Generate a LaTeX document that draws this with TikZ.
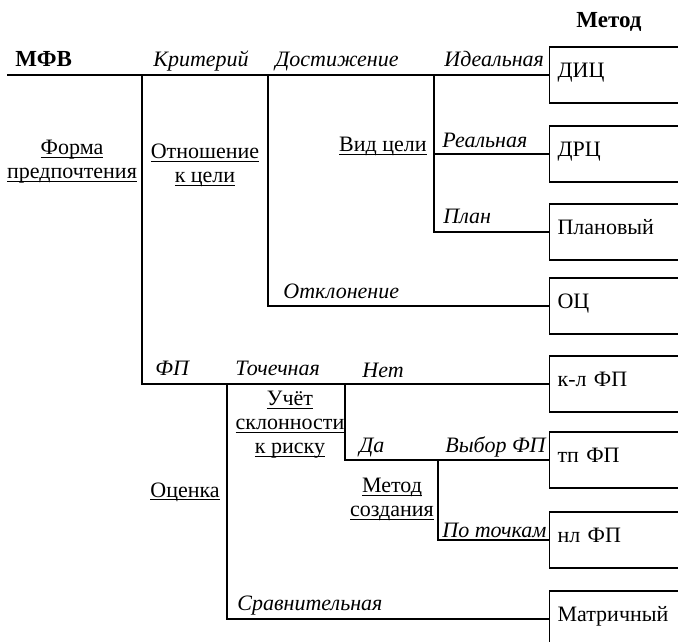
\documentclass[tikz,border=0pt]{standalone}
\usepackage{fontspec}
\setmainfont{Liberation Serif}
\newcommand{\undl}[1]{\underline{\raisebox{0pt}[\height][0pt]{#1}}}
\begin{document}
\begin{tikzpicture}[x=0.5pt, y=-0.5pt,
        every node/.style={font=\fontsize{11}{12}\selectfont, inner sep=0pt},
        link/.style={draw=black, line width=0.6pt},
        method_box/.style={rectangle, draw=black, line width=0.6pt, anchor=west, minimum width=70pt, minimum height=28pt, text width=62pt, inner xsep=4pt, inner ysep=0pt, align=left, text height=7.8pt, text depth=5.5pt},
        crit/.style={anchor=base west, font=\fontsize{11}{12}\selectfont\itshape},
        head/.style={anchor=base west, font=\fontsize{11.5}{12}\selectfont\bfseries},
        group/.style={align=center}
    ]
    \clip (0,0) rectangle (678,641);

    % Method boxes (right column, cut by the page edge)
    \node[method_box] (dic) at (549,75) {ДИЦ};
    \node[method_box] (drc) at (549,154) {ДРЦ};
    \node[method_box] (plan) at (549,232) {Плановый};
    \node[method_box] (oc) at (549,306) {ОЦ};
    \node[method_box] (klfp) at (549,384) {к-л ФП};
    \node[method_box] (tpfp) at (549,460) {тп ФП};
    \node[method_box] (nlfp) at (549,540) {нл ФП};
    \node[method_box] (matr) at (549,619) {Матричный};

    % Branch points of the tree
    \coordinate (start) at (7,75);
    \coordinate (crit_split) at (142,75);
    \coordinate (goal_split) at (268,75);
    \coordinate (kind_split) at (434,75);
    \coordinate (est_split) at (227,384);
    \coordinate (risk_split) at (345,384);
    \coordinate (make_split) at (438,460);

    % Tree lines
    \draw[link] (start) -- (dic.west);
    \draw[link] (crit_split) |- (klfp.west);
    \draw[link] (goal_split) |- (oc.west);
    \draw[link] (kind_split) |- (plan.west);
    \draw[link] (kind_split |- drc.west) -- (drc.west);
    \draw[link] (est_split) |- (matr.west);
    \draw[link] (risk_split) |- (tpfp.west);
    \draw[link] (make_split) |- (nlfp.west);

    % Headings
    \node[head] (mfv) at (15,67) {МФВ};
    \node[head] (metod) at (576,28) {Метод};

    % Branch labels (italic)
    \node[crit] (krit) at (153,67) {Критерий};
    \node[crit] (dost) at (275,67) {Достижение};
    \node[crit] (ideal) at (444,67) {Идеальная};
    \node[crit] (real) at (442,148) {Реальная};
    \node[crit] (plan_l) at (443,224) {План};
    \node[crit] (otkl) at (283,298) {Отклонение};
    \node[crit] (fp) at (155,375) {ФП};
    \node[crit] (toch) at (235,375) {Точечная};
    \node[crit] (net) at (362,377) {Нет};
    \node[crit] (da) at (359,452) {Да};
    \node[crit] (vybor) at (445,452) {Выбор ФП};
    \node[crit] (potoch) at (442,537) {По точкам};
    \node[crit] (sravn) at (237,610) {Сравнительная};

    % Feature labels (underlined)
    \node[group] (forma) at (72,161) {\undl{Форма}\\\undl{предпочтения}};
    \node[group] (otnosh) at (205,165) {\undl{Отношение}\\\undl{к цели}};
    \node[group, anchor=base east] (vid) at (427,152) {\undl{Вид цели}};
    \node[group] (uchet) at (290,424) {\undl{Учёт}\\\undl{склонности}\\\undl{к риску}};
    \node[group] (sozd) at (392,499) {\undl{Метод}\\\undl{создания}};
    \node[group, anchor=base west] (ocenka) at (150,497) {\undl{Оценка}};

    \end{tikzpicture}
\end{document}
